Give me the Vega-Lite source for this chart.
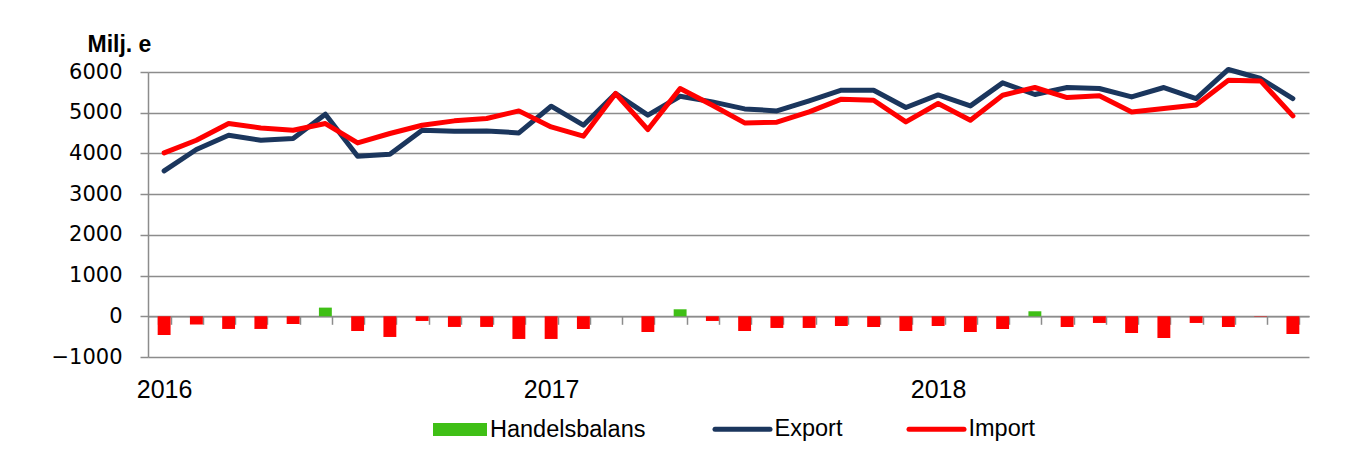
{
  "$schema": "https://vega.github.io/schema/vega-lite/v6.json",
  "width": 1161,
  "height": 285,
  "autosize": {"type": "none"},
  "padding": {"left": 148, "top": 72, "right": 50, "bottom": 100},
  "background": "white",
  "config": {"view": {"stroke": null}, "font": "Liberation Sans"},
  "data": {"values": [
    {"month": "2016-01", "Export": 3570, "Import": 4013, "balance": -460},
    {"month": "2016-02", "Export": 4096, "Import": 4324, "balance": -204},
    {"month": "2016-03", "Export": 4447, "Import": 4734, "balance": -311},
    {"month": "2016-04", "Export": 4324, "Import": 4627, "balance": -311},
    {"month": "2016-05", "Export": 4366, "Import": 4570, "balance": -189},
    {"month": "2016-06", "Export": 4963, "Import": 4734, "balance": 213},
    {"month": "2016-07", "Export": 3931, "Import": 4259, "balance": -361},
    {"month": "2016-08", "Export": 3980, "Import": 4489, "balance": -508},
    {"month": "2016-09", "Export": 4570, "Import": 4693, "balance": -115},
    {"month": "2016-10", "Export": 4545, "Import": 4800, "balance": -262},
    {"month": "2016-11", "Export": 4553, "Import": 4857, "balance": -262},
    {"month": "2016-12", "Export": 4504, "Import": 5045, "balance": -557},
    {"month": "2017-01", "Export": 5160, "Import": 4651, "balance": -557},
    {"month": "2017-02", "Export": 4693, "Import": 4423, "balance": -312},
    {"month": "2017-03", "Export": 5472, "Import": 5472, "balance": 0},
    {"month": "2017-04", "Export": 4939, "Import": 4586, "balance": -386},
    {"month": "2017-05", "Export": 5405, "Import": 5594, "balance": 172},
    {"month": "2017-06", "Export": 5266, "Import": 5184, "balance": -115},
    {"month": "2017-07", "Export": 5094, "Import": 4750, "balance": -361},
    {"month": "2017-08", "Export": 5045, "Import": 4767, "balance": -287},
    {"month": "2017-09", "Export": 5290, "Import": 5020, "balance": -287},
    {"month": "2017-10", "Export": 5553, "Import": 5332, "balance": -238},
    {"month": "2017-11", "Export": 5553, "Import": 5307, "balance": -263},
    {"month": "2017-12", "Export": 5127, "Import": 4775, "balance": -361},
    {"month": "2018-01", "Export": 5438, "Import": 5226, "balance": -238},
    {"month": "2018-02", "Export": 5168, "Import": 4816, "balance": -386},
    {"month": "2018-03", "Export": 5733, "Import": 5430, "balance": -312},
    {"month": "2018-04", "Export": 5447, "Import": 5619, "balance": 123},
    {"month": "2018-05", "Export": 5619, "Import": 5373, "balance": -263},
    {"month": "2018-06", "Export": 5594, "Import": 5414, "balance": -164},
    {"month": "2018-07", "Export": 5389, "Import": 5020, "balance": -410},
    {"month": "2018-08", "Export": 5619, "Import": 5103, "balance": -533},
    {"month": "2018-09", "Export": 5348, "Import": 5192, "balance": -164},
    {"month": "2018-10", "Export": 6062, "Import": 5799, "balance": -263},
    {"month": "2018-11", "Export": 5840, "Import": 5782, "balance": -10},
    {"month": "2018-12", "Export": 5348, "Import": 4922, "balance": -435}
  ]},
  "encoding": {
    "x": {
      "field": "month", "type": "ordinal",
      "scale": {"paddingInner": 0.6, "paddingOuter": 0.3},
      "axis": {
        "orient": "bottom", "offset": -40.7, "title": null,
        "tickBand": "extent", "tickSize": 8, "tickColor": "#8c8c8c", "tickWidth": 1.5,
        "domainColor": "#8c8c8c", "domainWidth": 1.5, "grid": false,
        "labelExpr": "substring(datum.value, 5, 7) == '01' ? substring(datum.value, 0, 4) : ''",
        "labelOverlap": false, "labelAngle": 0, "labelFont": "Liberation Sans", "labelFontSize": 25,
        "labelColor": "#000000", "labelPadding": 53, "labelBaseline": "top", "labelFlush": false
      }
    }
  },
  "layer": [
    {
      "mark": {"type": "bar"},
      "encoding": {
        "y": {
          "field": "balance", "type": "quantitative",
          "scale": {"domain": [-1000, 6000], "nice": false, "zero": false},
          "axis": {
            "values": [-1000, 0, 1000, 2000, 3000, 4000, 5000, 6000], "format": "d",
            "title": "Milj. e", "titleAngle": 0, "titleAlign": "left", "titleBaseline": "alphabetic",
            "titleX": -61, "titleY": -21, "titleFont": "Liberation Sans", "titleFontSize": 23,
            "titleFontWeight": "bold", "titleColor": "#000000",
            "labelFont": "DejaVu Sans", "labelFontSize": 21, "labelColor": "#000000", "labelPadding": 18,
            "tickSize": 8, "tickColor": "#8c8c8c", "tickWidth": 1.5,
            "domainColor": "#8c8c8c", "domainWidth": 1.5,
            "grid": true, "gridColor": "#8c8c8c", "gridWidth": 1.5
          }
        },
        "fill": {
          "condition": {"test": "datum.balance < 0", "value": "#ff0000"},
          "datum": "Handelsbalans", "type": "nominal",
          "scale": {"domain": ["Handelsbalans"], "range": ["#3fbf16"]},
          "legend": {
            "orient": "none", "legendX": 285, "legendY": 330.5, "direction": "horizontal", "title": null,
            "symbolType": "M-1,-0.24H1V0.24H-1Z", "symbolSize": 2916, "symbolStrokeWidth": 0,
            "symbolOpacity": 1, "symbolFillColor": "#3fbf16",
            "labelFont": "Liberation Sans", "labelFontSize": 23.5, "labelColor": "#000000",
            "labelOffset": 3, "padding": 0
          }
        }
      }
    },
    {
      "transform": [{"fold": ["Export", "Import"], "as": ["series", "value"]}],
      "mark": {"type": "line", "strokeWidth": 5, "strokeJoin": "round", "strokeCap": "round"},
      "encoding": {
        "y": {"field": "value", "type": "quantitative"},
        "stroke": {
          "field": "series", "type": "nominal",
          "scale": {"domain": ["Export", "Import"], "range": ["#1b365d", "#ff0000"]},
          "legend": {
            "orient": "none", "legendX": 564.5, "legendY": 327, "direction": "horizontal", "title": null,
            "symbolType": "stroke", "symbolSize": 3025, "symbolStrokeWidth": 5,
            "labelFont": "Liberation Sans", "labelFontSize": 23.5, "labelColor": "#000000",
            "labelOffset": 2, "columnPadding": 56, "padding": 0,
            "encode": {"symbols": {"update": {"strokeCap": {"value": "round"}}}}
          }
        }
      }
    }
  ]
}
